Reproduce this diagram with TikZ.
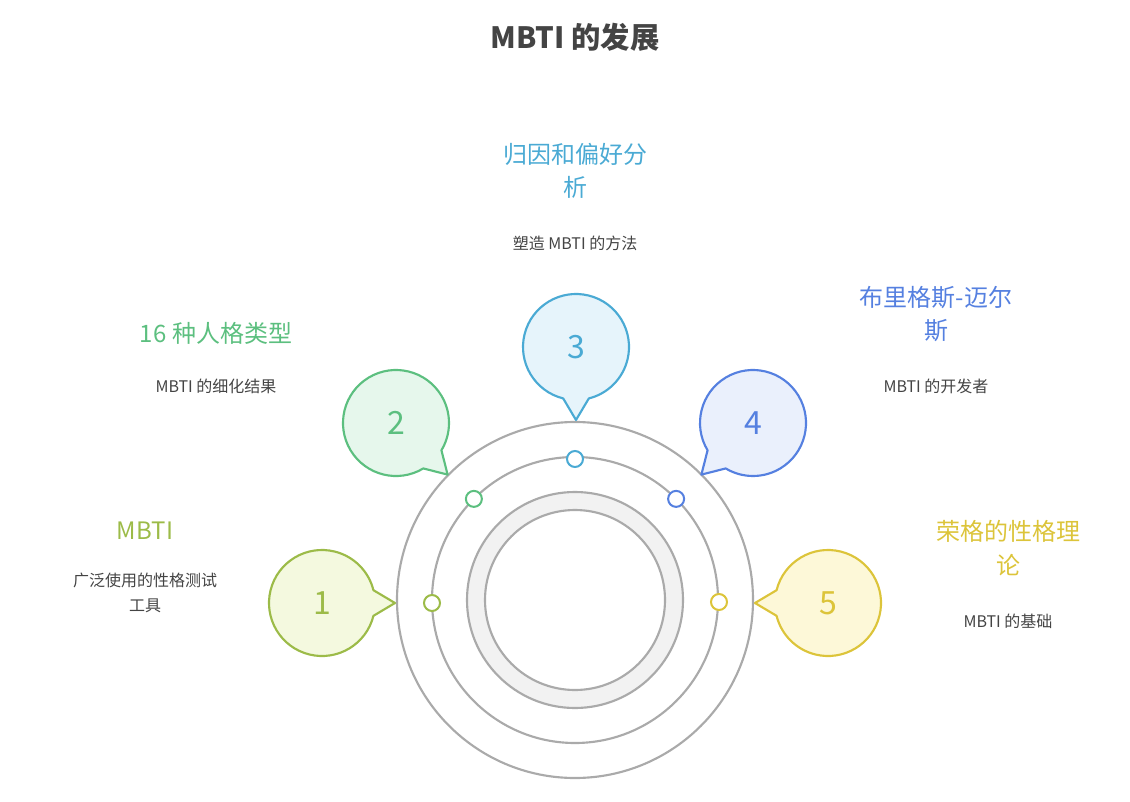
\documentclass[tikz,border=0pt]{standalone}
\usepackage{fontspec}
\setmainfont{Noto Sans CJK SC}
\usetikzlibrary{calc}
\begin{document}
\begin{tikzpicture}[x=0.75pt,y=-0.75pt]
\definecolor{c1}{HTML}{9CBB48}\definecolor{f1}{HTML}{F4F9DF}
\definecolor{c2}{HTML}{5CBF7F}\definecolor{f2}{HTML}{E6F7EC}
\definecolor{c3}{HTML}{4AAAD4}\definecolor{f3}{HTML}{E6F4FB}
\definecolor{c4}{HTML}{5580E0}\definecolor{f4}{HTML}{EAF0FC}
\definecolor{c5}{HTML}{DCC43A}\definecolor{f5}{HTML}{FDF8D8}
\definecolor{ring}{HTML}{AAAAAA}\definecolor{txt}{HTML}{444444}
\tikzset{
 ringline/.style={draw=ring,line width=1.6pt},
 dot/.style={circle,draw,fill=white,line width=1.5pt,minimum size=12pt,inner sep=0},
 head/.style={font=\fontsize{18}{25}\selectfont,align=center},
 desc/.style={font=\fontsize{12}{19}\selectfont,text=txt,align=center},
 num/.style={font=\fontsize{24}{26}\selectfont}
}
\useasboundingbox (0,0) rectangle (1130,802);
\node[font=\fontsize{22}{26}\selectfont\bfseries,text=txt] (title) at (575,37) {MBTI 的发展};
\coordinate (O) at (575,600);
\draw[ringline] (O) circle[radius=178];
\draw[ringline] (O) circle[radius=143];
\fill[even odd rule,fill=black!5] (O) circle[radius=108] (O) circle[radius=90];
\draw[ringline] (O) circle[radius=108];
\draw[ringline] (O) circle[radius=90];
% bubbles
\foreach \cx/\cy/\th/\c/\f/\n in {322/603/0/c1/f1/1,396/423/45/c2/f2/2,576/347/90/c3/f3/3,753/423/135/c4/f4/4,828/603/180/c5/f5/5}{
 \draw[draw=\c,fill=\f,line width=1.6pt,line join=round] ($(\cx,\cy)+(\th+14:53)$) arc[start angle=\th+14,end angle=\th+346,radius=53] -- ($(\cx,\cy)+(\th:73)$) -- cycle;
 \node[num,text=\c] (n\n) at (\cx,\cy) {\n};
}
\node[dot,draw=c1] (d1) at (432,603) {};
\node[dot,draw=c2] (d2) at ($(O)+(-135:143)$) {};
\node[dot,draw=c3] (d3) at (575,459) {};
\node[dot,draw=c4] (d4) at ($(O)+(-45:143)$) {};
\node[dot,draw=c5] (d5) at (719,602) {};
% texts
\node[head,text=c3] (h3) at (575,171) {归因和偏好分\\析};
\node[desc] (t3) at (575,243) {塑造 MBTI 的方法};
\node[head,text=c2] (h2) at (216,333) {16 种人格类型};
\node[desc] (t2) at (216,386) {MBTI 的细化结果};
\node[head,text=c4] (h4) at (936,314) {布里格斯-迈尔\\斯};
\node[desc] (t4) at (936,386) {MBTI 的开发者};
\node[head,text=c1] (h1) at (145,531) {MBTI};
\node[desc] (t1) at (145,593) {广泛使用的性格测试\\工具};
\node[head,text=c5] (h5) at (1008,548) {荣格的性格理\\论};
\node[desc] (t5) at (1008,621) {MBTI 的基础};
\end{tikzpicture}
\end{document}
